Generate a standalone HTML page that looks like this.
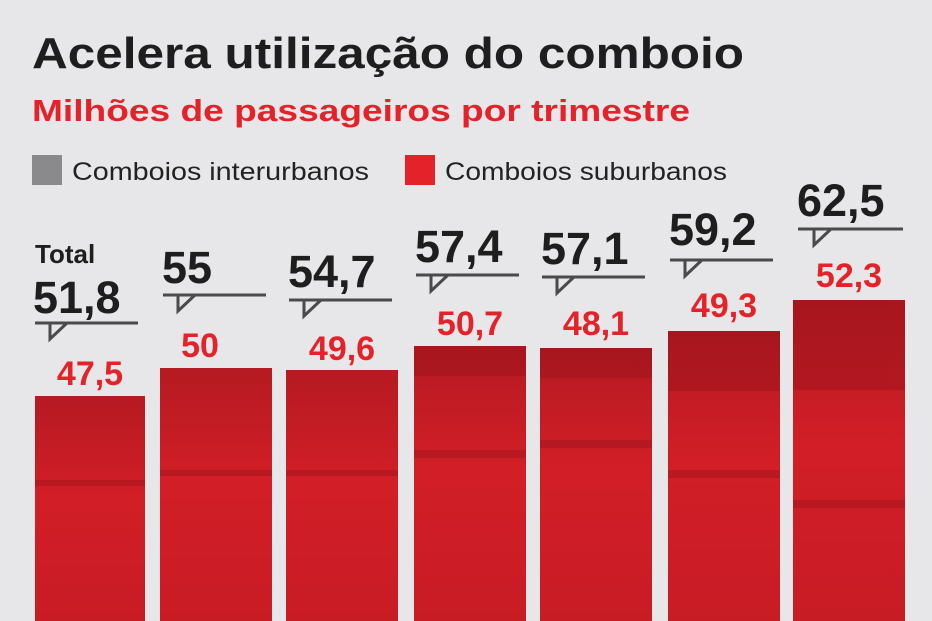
<!DOCTYPE html><html><head><meta charset="utf-8"><style>
html,body{margin:0;padding:0;background:#e7e7e9;}
svg{display:block}
text{font-family:"Liberation Sans",sans-serif;font-weight:bold}
</style></head><body>
<svg width="932" height="621" viewBox="0 0 932 621" xmlns="http://www.w3.org/2000/svg">
<defs>
<linearGradient id="g" x1="0" y1="0" x2="0" y2="1">
<stop offset="0" stop-color="#b51a22"/><stop offset="0.45" stop-color="#d21e27"/><stop offset="1" stop-color="#c81c25"/>
</linearGradient>
</defs>
<rect width="932" height="621" fill="#e7e7e9"/>
<text x="32" y="68" font-size="44" fill="#1e1e1e" textLength="712" lengthAdjust="spacingAndGlyphs">Acelera utilização do comboio</text>
<text x="32" y="121" font-size="31" fill="#e3222a" textLength="658" lengthAdjust="spacingAndGlyphs">Milhões de passageiros por trimestre</text>
<rect x="32" y="155" width="30" height="30" fill="#8a8a8c"/>
<text x="72" y="180" font-size="25" style="font-weight:normal" fill="#222" textLength="297" lengthAdjust="spacingAndGlyphs">Comboios interurbanos</text>
<rect x="405" y="155" width="30" height="30" fill="#e3222a"/>
<text x="445" y="180" font-size="25" style="font-weight:normal" fill="#222" textLength="282" lengthAdjust="spacingAndGlyphs">Comboios suburbanos</text>

<g fill="url(#g)">
<rect x="35" y="396" width="110" height="225"/>
<rect x="160" y="368" width="112" height="253"/>
<rect x="286" y="370" width="112" height="251"/>
<rect x="414" y="346" width="112" height="275"/>
<rect x="540" y="348" width="112" height="273"/>
<rect x="668" y="331" width="112" height="290"/>
<rect x="793" y="300" width="112" height="321"/>
</g>
<g fill="#8e1018" opacity="0.35">
<rect x="35" y="480" width="110" height="6"/><rect x="160" y="470" width="112" height="6"/>
<rect x="286" y="470" width="112" height="6"/><rect x="414" y="450" width="112" height="8"/>
<rect x="540" y="440" width="112" height="8"/><rect x="668" y="470" width="112" height="8"/>
<rect x="793" y="500" width="112" height="8"/>
<rect x="668" y="331" width="112" height="60"/><rect x="793" y="300" width="112" height="90"/>
<rect x="414" y="346" width="112" height="30"/><rect x="540" y="348" width="112" height="30"/>
</g>

<g font-size="45" fill="#1e1e1e">
<text x="35" y="263" font-size="26">Total</text>
<text x="33" y="313">51,8</text>
<text x="162" y="283">55</text>
<text x="288" y="287">54,7</text>
<text x="415" y="262">57,4</text>
<text x="541" y="264">57,1</text>
<text x="669" y="245">59,2</text>
<text x="797" y="216">62,5</text>
</g>
<g fill="none" stroke="#4a4a4a" stroke-width="3">
<path d="M35 323 H138 M50 323 V339 L67 323"/>
<path d="M163 295 H266 M178 295 V311 L195 295"/>
<path d="M289 300 H392 M304 300 V316 L321 300"/>
<path d="M416 275 H519 M431 275 V291 L448 275"/>
<path d="M542 277 H645 M557 277 V293 L574 277"/>
<path d="M670 260 H773 M685 260 V276 L702 260"/>
<path d="M798 229 H903 M814 229 V245 L831 229"/>
</g>
<g font-size="34" fill="#e3222a" text-anchor="middle">
<text x="90" y="385">47,5</text>
<text x="200" y="357">50</text>
<text x="342" y="360">49,6</text>
<text x="470" y="335">50,7</text>
<text x="596" y="335">48,1</text>
<text x="724" y="317">49,3</text>
<text x="849" y="287">52,3</text>
</g>
</svg>
</body></html>
